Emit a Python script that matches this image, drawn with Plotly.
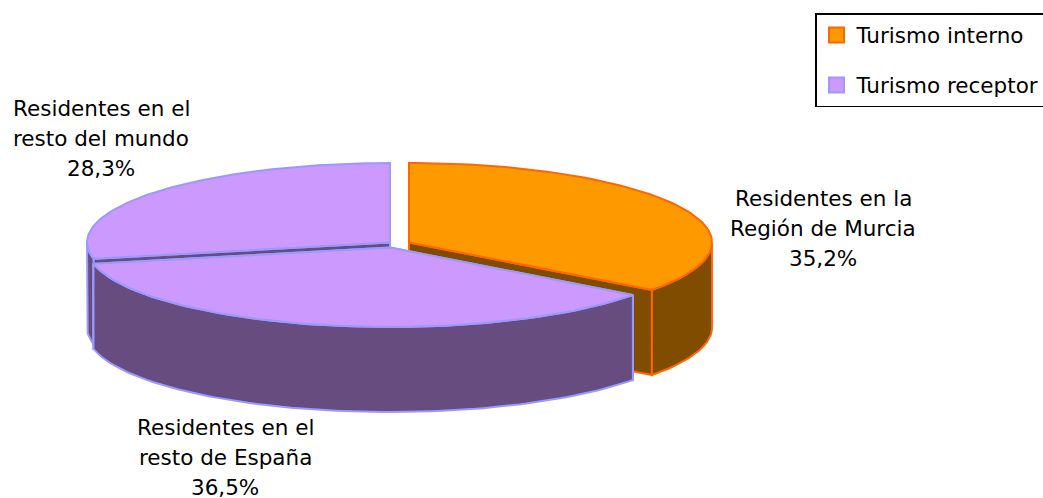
import numpy as np
import plotly.graph_objects as go

# Data
categories = ["Residentes en la Región de Murcia", "Residentes en el resto de España", "Residentes en el resto del mundo"]
shares = [35.2, 36.5, 28.3]
share_labels = ["35,2%", "36,5%", "28,3%"]
label_lines = [["Residentes en la", "Región de Murcia"], ["Residentes en el", "resto de España"], ["Residentes en el", "resto del mundo"]]
groups = ["Turismo interno", "Turismo receptor", "Turismo receptor"]
group_names = ["Turismo interno", "Turismo receptor"]

# Style / geometry of the drawn 3-D pie
W, H = 1043, 498
RX, RY, DEPTH = 303, 79.5, 85
centres = [(409, 242.5), (390, 247.5), (390, 242.5)]
label_pos = [(823, 198), (225, 427), (101, 108)]
LINE_H = 30
FONT = "DejaVu Sans"
FS = 21.5
top_col = {"Turismo interno": "#FF9900", "Turismo receptor": "#CC99FF"}
side_col = {"Turismo interno": "#7F4C00", "Turismo receptor": "#664C7F"}
edge_col = {"Turismo interno": "#FF6600", "Turismo receptor": "#9999FF"}

cum = np.cumsum([0] + shares) / sum(shares) * 2 * np.pi


def ell(c, t, dz=0.0):
    return c[0] + RX * np.sin(t), c[1] - RY * np.cos(t) + dz


fig = go.Figure()


def poly(xs, ys, g, fill):
    fig.add_trace(go.Scatter(
        x=list(xs), y=list(ys), mode="lines", fill="toself",
        fillcolor=fill, showlegend=False, hoverinfo="skip",
        line=dict(color=edge_col[g], width=2)))


def draw_slice(i):
    c, g = centres[i], groups[i]
    t = np.linspace(cum[i], cum[i + 1], 90)
    # radial walls
    for a in (cum[i], cum[i + 1]):
        x1, y1 = ell(c, a)
        poly([c[0], x1, x1, c[0], c[0]], [c[1], y1, y1 + DEPTH, c[1] + DEPTH, c[1]], g, side_col[g])
    # outer wall, visible front half only
    f = t[(t >= np.pi / 2) & (t <= 3 * np.pi / 2)]
    if len(f):
        xo, yo = ell(c, f)
        xb, yb = ell(c, f[::-1], DEPTH)
        poly(np.r_[xo, xb, xo[0]], np.r_[yo, yb, yo[0]], g, side_col[g])
    # top face
    xt, yt = ell(c, t)
    poly(np.r_[c[0], xt, c[0]], np.r_[c[1], yt, c[1]], g, top_col[g])


for i in (2, 0, 1):
    draw_slice(i)

# Legend entries
for k, g in enumerate(group_names):
    fig.add_trace(go.Scatter(
        x=[None], y=[None], mode="markers", name=g, legendgroup=g,
        marker=dict(symbol="square", size=15, color=top_col[g],
                    line=dict(color=edge_col[g], width=2))))

# Labels, line by line
for i in range(3):
    lx, ly = label_pos[i]
    for j, txt in enumerate(label_lines[i] + [share_labels[i]]):
        fig.add_annotation(x=lx, y=ly + j * LINE_H, text=txt, showarrow=False,
                           xanchor="center", yanchor="middle", borderpad=0,
                           font=dict(family=FONT, size=FS, color="#000000"))

fig.update_layout(
    width=W, height=H, margin=dict(l=0, r=0, t=0, b=0, autoexpand=False),
    paper_bgcolor="#FFFFFF", plot_bgcolor="#FFFFFF",
    font=dict(family=FONT, size=FS, color="#000000"),
    xaxis=dict(range=[0, W], visible=False, fixedrange=True),
    yaxis=dict(range=[H, 0], visible=False, fixedrange=True),
    legend=dict(x=815 / W, y=1 - 13 / H, xanchor="left", yanchor="top",
                bordercolor="#000000", borderwidth=1.5, bgcolor="#FFFFFF",
                tracegroupgap=19, itemwidth=30, entrywidth=176, entrywidthmode="pixels",
                font=dict(family=FONT, size=FS)),
)
fig.write_html("out.html", config={"displayModeBar": False},
               post_script="document.body.style.margin='0';document.documentElement.style.overflow='hidden';")
